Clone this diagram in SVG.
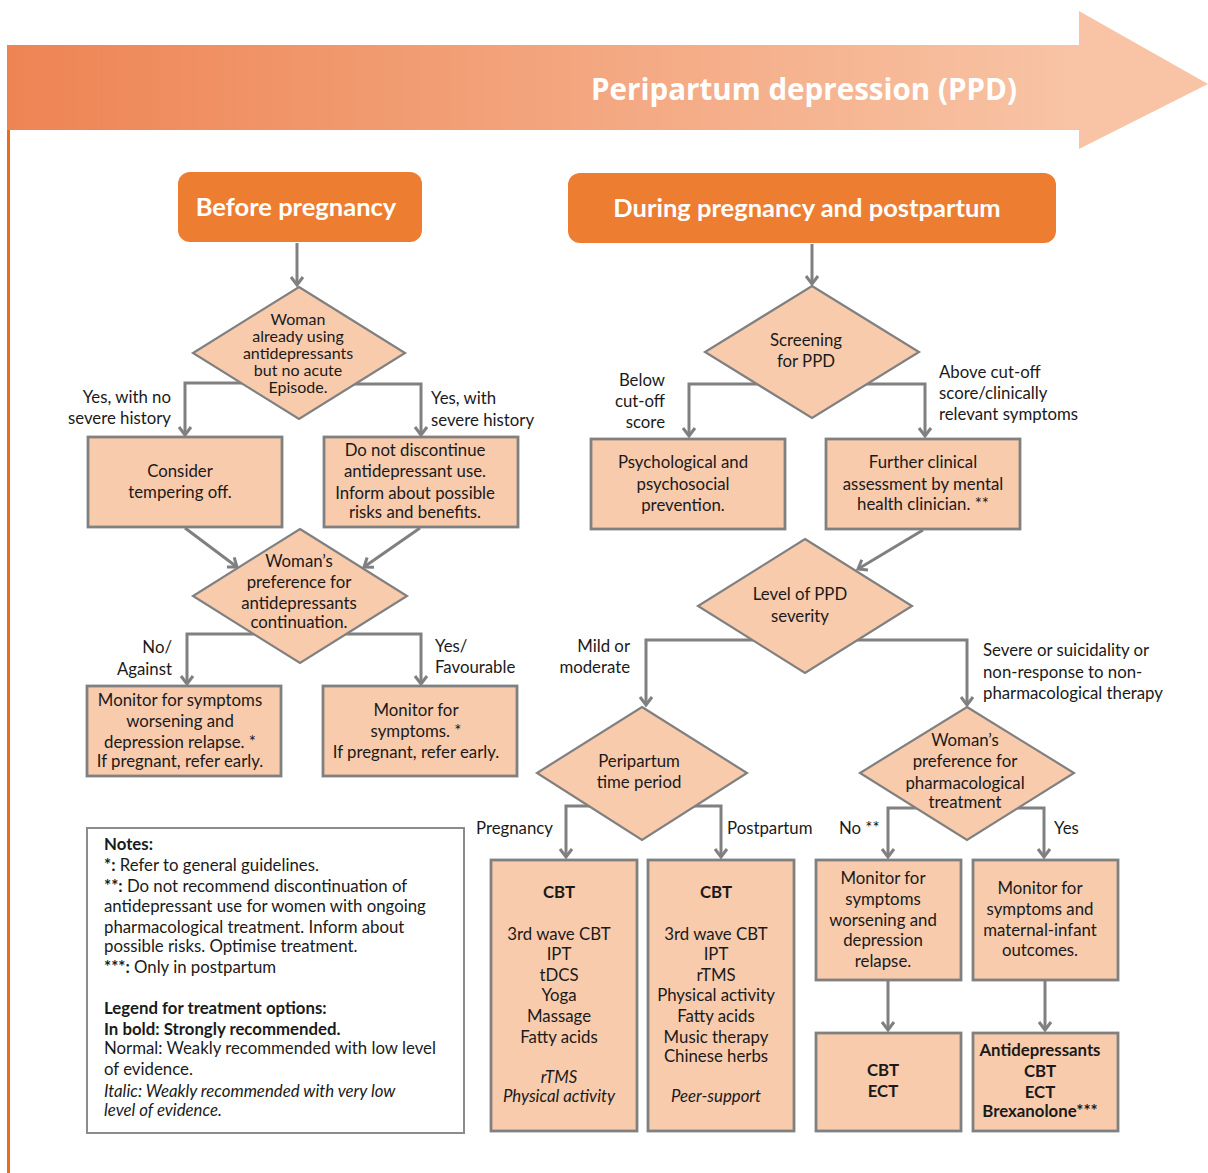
<svg xmlns="http://www.w3.org/2000/svg" width="1208" height="1173" viewBox="0 0 1208 1173">
<defs>
<linearGradient id="bandGrad" x1="0" y1="0" x2="1" y2="0">
<stop offset="0" stop-color="#EE8454"/>
<stop offset="1" stop-color="#F8C4A5"/>
</linearGradient>
<marker id="chev" markerUnits="userSpaceOnUse" markerWidth="16" markerHeight="16" refX="11" refY="8" orient="auto">
<path d="M3,2 L11,8 L3,14" fill="none" stroke="#808080" stroke-width="3" stroke-linejoin="miter"/>
</marker>
</defs>
<style>
.t{font-family:Lato,"Liberation Sans",sans-serif;font-size:16.8px;fill:#1a1a1a;text-anchor:middle}
.s{font-size:16px}
.l{font-family:Lato,"Liberation Sans",sans-serif;font-size:16.8px;fill:#1a1a1a}
.r{text-anchor:end}
.b{font-weight:bold}
.i{font-style:italic}
.hdr{fill:#ED7D31}
.hdrt{font-family:Lato,"Liberation Sans",sans-serif;font-size:25.5px;font-weight:bold;fill:#fff;text-anchor:middle}
.box{fill:#F8CBAD;stroke:#808080;stroke-width:2.8}
.dia{fill:#F8CBAD;stroke:#808080;stroke-width:2.2}
.con{fill:none;stroke:#808080;stroke-width:3;marker-end:url(#chev)}
</style>
<rect width="1208" height="1173" fill="#fff"/>
<g id="band">
<rect x="7" y="45" width="1073" height="85" fill="url(#bandGrad)"/>
<polygon points="1079,11 1208,84 1079,149" fill="#F8C4A5"/>
<line x1="8.5" y1="130" x2="8.5" y2="1173" stroke="#EB6A1C" stroke-width="3"/>
<text x="804" y="100" font-family="'Open Sans','Liberation Sans',sans-serif" font-size="30" font-weight="bold" fill="#fff" text-anchor="middle" textLength="426" lengthAdjust="spacingAndGlyphs">Peripartum depression (PPD)</text>
</g>
<g id="connectors">
<polyline class="con" points="297,243 297,285"/>
<polyline class="con" points="260,383 185,383 185,435"/>
<polyline class="con" points="340,384 421,384 421,435"/>
<polyline class="con" points="185,528 237,567"/>
<polyline class="con" points="420,528 364,567"/>
<polyline class="con" points="270,634 187,634 187,684"/>
<polyline class="con" points="330,634 421,634 421,684"/>
<polyline class="con" points="812,244 812,284"/>
<polyline class="con" points="770,384 689,384 689,436"/>
<polyline class="con" points="855,384 925,384 925,436"/>
<polyline class="con" points="923,530 858,569"/>
<polyline class="con" points="770,640 646,640 646,705"/>
<polyline class="con" points="840,640 967,640 967,705"/>
<polyline class="con" points="610,806 566,806 566,857"/>
<polyline class="con" points="675,806 721,806 721,857"/>
<polyline class="con" points="940,808 888,808 888,857"/>
<polyline class="con" points="995,808 1044,808 1044,857"/>
<polyline class="con" points="888,981 888,1030"/>
<polyline class="con" points="1045,981 1045,1030"/>
</g>
<g id="edge-labels">
<text class="l r" x="171" y="403">Yes, with no</text>
<text class="l r" x="171" y="424">severe history</text>
<text class="l" x="431" y="404">Yes, with</text>
<text class="l" x="431" y="426">severe history</text>
<text class="l r" x="172" y="653">No/</text>
<text class="l r" x="172" y="675">Against</text>
<text class="l" x="435" y="652">Yes/</text>
<text class="l" x="435" y="673">Favourable</text>
<text class="l r" x="665" y="386">Below</text>
<text class="l r" x="665" y="407">cut-off</text>
<text class="l r" x="665" y="428">score</text>
<text class="l" x="939" y="378">Above cut-off</text>
<text class="l" x="939" y="399">score/clinically</text>
<text class="l" x="939" y="420">relevant symptoms</text>
<text class="l r" x="630" y="652">Mild or</text>
<text class="l r" x="630" y="673">moderate</text>
<text class="l" x="983" y="656">Severe or suicidality or</text>
<text class="l" x="983" y="678">non-response to non-</text>
<text class="l" x="983" y="699">pharmacological therapy</text>
<text class="l r" x="553" y="834">Pregnancy</text>
<text class="l" x="727" y="834">Postpartum</text>
<text class="l" x="839" y="834">No **</text>
<text class="l" x="1054" y="834">Yes</text>
</g>
<g id="before-pregnancy">
<rect class="hdr" x="178" y="172" width="244" height="70" rx="12"/>
<text class="hdrt" x="296" y="216">Before pregnancy</text>
</g>
<g id="during-pregnancy">
<rect class="hdr" x="568" y="173" width="488" height="70" rx="12"/>
<text class="hdrt" x="807" y="217">During pregnancy and postpartum</text>
</g>
<g id="already-using">
<polygon class="dia" points="299,287 405,353 299,419 193,353"/>
<text class="t s" x="298" y="325">Woman</text>
<text class="t s" x="298" y="342">already using</text>
<text class="t s" x="298" y="359">antidepressants</text>
<text class="t s" x="298" y="376">but no acute</text>
<text class="t s" x="298" y="393">Episode.</text>
</g>
<g id="consider-tempering">
<rect class="box" x="88" y="437" width="194" height="90"/>
<text class="t" x="180" y="477">Consider</text>
<text class="t" x="180" y="498">tempering off.</text>
</g>
<g id="do-not-discontinue">
<rect class="box" x="324" y="437" width="194" height="90"/>
<text class="t" x="415" y="456">Do not discontinue</text>
<text class="t" x="415" y="477">antidepressant use.</text>
<text class="t" x="415" y="499">Inform about possible</text>
<text class="t" x="415" y="518">risks and benefits.</text>
</g>
<g id="preference-continuation">
<polygon class="dia" points="300,529 407,596 300,663 193,596"/>
<text class="t" x="299" y="567">Woman’s</text>
<text class="t" x="299" y="588">preference for</text>
<text class="t" x="299" y="609">antidepressants</text>
<text class="t" x="299" y="628">continuation.</text>
</g>
<g id="monitor-relapse-left">
<rect class="box" x="87" y="686" width="194" height="90"/>
<text class="t" x="180" y="706">Monitor for symptoms</text>
<text class="t" x="180" y="727">worsening and</text>
<text class="t" x="180" y="748">depression relapse. *</text>
<text class="t" x="180" y="767">If pregnant, refer early.</text>
</g>
<g id="monitor-symptoms-left">
<rect class="box" x="323" y="686" width="194" height="90"/>
<text class="t" x="416" y="716">Monitor for</text>
<text class="t" x="416" y="737">symptoms. *</text>
<text class="t" x="416" y="758">If pregnant, refer early.</text>
</g>
<g id="screening">
<polygon class="dia" points="812,286 919,352 812,418 705,352"/>
<text class="t" x="806" y="346">Screening</text>
<text class="t" x="806" y="367">for PPD</text>
</g>
<g id="psych-prevention">
<rect class="box" x="591" y="439" width="194" height="90"/>
<text class="t" x="683" y="468">Psychological and</text>
<text class="t" x="683" y="490">psychosocial</text>
<text class="t" x="683" y="511">prevention.</text>
</g>
<g id="further-assessment">
<rect class="box" x="826" y="439" width="194" height="90"/>
<text class="t" x="923" y="468">Further clinical</text>
<text class="t" x="923" y="490">assessment by mental</text>
<text class="t" x="923" y="510">health clinician. **</text>
</g>
<g id="severity">
<polygon class="dia" points="805,539 912,606 805,673 698,606"/>
<text class="t" x="800" y="600">Level of PPD</text>
<text class="t" x="800" y="622">severity</text>
</g>
<g id="time-period">
<polygon class="dia" points="642,707 747,773 642,840 537,773"/>
<text class="t" x="639" y="767">Peripartum</text>
<text class="t" x="639" y="788">time period</text>
</g>
<g id="preference-pharmacological">
<polygon class="dia" points="967,707 1074,773 967,840 860,773"/>
<text class="t" x="965" y="746">Woman’s</text>
<text class="t" x="965" y="767">preference for</text>
<text class="t" x="965" y="789">pharmacological</text>
<text class="t" x="965" y="808">treatment</text>
</g>
<g id="pregnancy-options">
<rect class="box" x="491" y="860" width="146" height="271"/>
<text class="t b" x="559" y="898">CBT</text>
<text class="t" x="559" y="940">3rd wave CBT</text>
<text class="t" x="559" y="960">IPT</text>
<text class="t" x="559" y="981">tDCS</text>
<text class="t" x="559" y="1001">Yoga</text>
<text class="t" x="559" y="1022">Massage</text>
<text class="t" x="559" y="1043">Fatty acids</text>
<text class="t i" x="559" y="1083">rTMS</text>
<text class="t i" x="559" y="1102">Physical activity</text>
</g>
<g id="postpartum-options">
<rect class="box" x="648" y="860" width="146" height="271"/>
<text class="t b" x="716" y="898">CBT</text>
<text class="t" x="716" y="940">3rd wave CBT</text>
<text class="t" x="716" y="960">IPT</text>
<text class="t" x="716" y="981">rTMS</text>
<text class="t" x="716" y="1001">Physical activity</text>
<text class="t" x="716" y="1022">Fatty acids</text>
<text class="t" x="716" y="1043">Music therapy</text>
<text class="t" x="716" y="1062">Chinese herbs</text>
<text class="t i" x="716" y="1102">Peer-support</text>
</g>
<g id="monitor-relapse-right">
<rect class="box" x="816" y="860" width="145" height="120"/>
<text class="t" x="883" y="884">Monitor for</text>
<text class="t" x="883" y="905">symptoms</text>
<text class="t" x="883" y="926">worsening and</text>
<text class="t" x="883" y="946">depression</text>
<text class="t" x="883" y="967">relapse.</text>
</g>
<g id="monitor-outcomes">
<rect class="box" x="973" y="860" width="145" height="120"/>
<text class="t" x="1040" y="894">Monitor for</text>
<text class="t" x="1040" y="915">symptoms and</text>
<text class="t" x="1040" y="936">maternal-infant</text>
<text class="t" x="1040" y="956">outcomes.</text>
</g>
<g id="cbt-ect">
<rect class="box" x="816" y="1033" width="145" height="98"/>
<text class="t b" x="883" y="1076">CBT</text>
<text class="t b" x="883" y="1097">ECT</text>
</g>
<g id="antidepressants">
<rect class="box" x="973" y="1033" width="145" height="98"/>
<text class="t b" x="1040" y="1056">Antidepressants</text>
<text class="t b" x="1040" y="1077">CBT</text>
<text class="t b" x="1040" y="1098">ECT</text>
<text class="t b" x="1040" y="1117">Brexanolone***</text>
</g>
<g id="notes">
<rect x="87" y="828" width="377" height="305" fill="#fff" stroke="#8C8C8C" stroke-width="2"/>
<text class="l b" x="104" y="850">Notes:</text>
<text class="l" x="104" y="871"><tspan class="b">*:</tspan> Refer to general guidelines.</text>
<text class="l" x="104" y="892"><tspan class="b">**:</tspan> Do not recommend discontinuation of</text>
<text class="l" x="104" y="912">antidepressant use for women with ongoing</text>
<text class="l" x="104" y="933">pharmacological treatment. Inform about</text>
<text class="l" x="104" y="952">possible risks. Optimise treatment.</text>
<text class="l" x="104" y="973"><tspan class="b">***:</tspan> Only in postpartum</text>
<text class="l b" x="104" y="1014">Legend for treatment options:</text>
<text class="l b" x="104" y="1035">In bold: Strongly recommended.</text>
<text class="l" x="104" y="1054">Normal: Weakly recommended with low level</text>
<text class="l" x="104" y="1075">of evidence.</text>
<text class="l i" x="104" y="1097">Italic: Weakly recommended with very low</text>
<text class="l i" x="104" y="1116">level of evidence.</text>
</g>
</svg>
